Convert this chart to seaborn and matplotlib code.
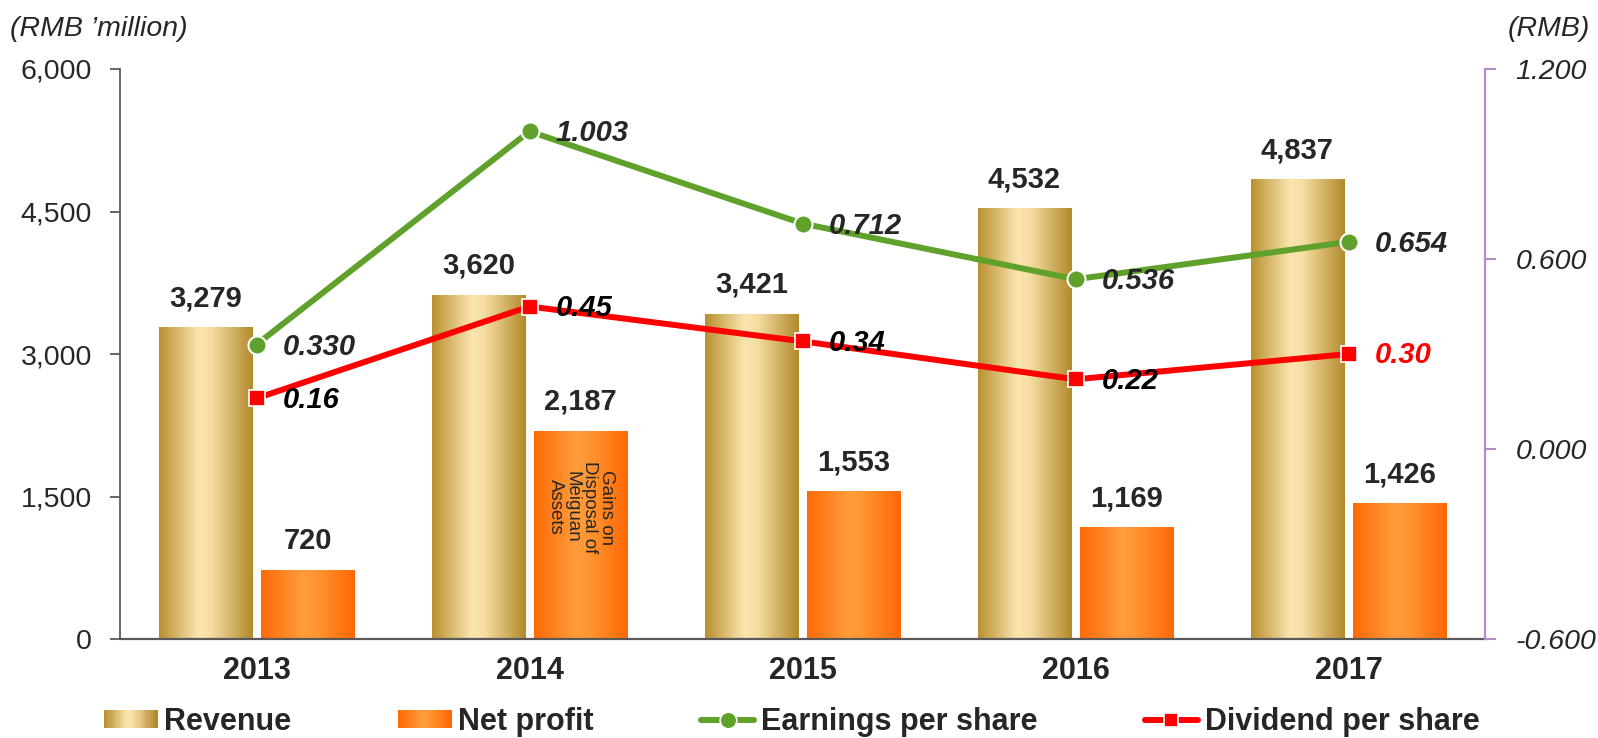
import numpy as np
import pandas as pd
import matplotlib
matplotlib.use("Agg")
import matplotlib.pyplot as plt
import seaborn as sns
from matplotlib.colors import LinearSegmentedColormap
from matplotlib.patches import Patch, Rectangle
from matplotlib.lines import Line2D
from matplotlib.legend_handler import HandlerBase

# Data
years = ["2013", "2014", "2015", "2016", "2017"]
revenue = [3279, 3620, 3421, 4532, 4837]
net_profit = [720, 2187, 1553, 1169, 1426]
eps = [0.330, 1.003, 0.712, 0.536, 0.654]
dps = [0.16, 0.45, 0.34, 0.22, 0.30]
eps_labels = ["0.330", "1.003", "0.712", "0.536", "0.654"]
dps_labels = ["0.16", "0.45", "0.34", "0.22", "0.30"]

sns.set_style("white")
plt.rcParams["font.family"] = ["Liberation Sans", "DejaVu Sans"]

rev_cmap = LinearSegmentedColormap.from_list(
    "rev", [(0, "#b8902f"), (0.42, "#fbe5af"), (0.55, "#f6dea5"), (1, "#b38a2b")])
np_cmap = LinearSegmentedColormap.from_list(
    "np", [(0, "#ff6a05"), (0.45, "#ff9d3c"), (0.6, "#ff9430"), (1, "#ff6805")])

GREEN = "#5fa12b"
RED = "#ff0000"
GREY = "#595959"
PURPLE = "#b48cc6"

df = pd.DataFrame({
    "Year": years * 2,
    "Metric": ["Revenue"] * 5 + ["Net profit"] * 5,
    "Value": revenue + net_profit,
})

fig = plt.figure(figsize=(15.98, 7.38), dpi=100)
ax = fig.add_axes([120 / 1598, 1 - 639 / 738, 1365 / 1598, 570 / 738])

sns.barplot(data=df, x="Year", y="Value", hue="Metric",
            palette=["#e8cc85", "#ff8a25"], width=0.75, gap=0.09,
            ax=ax, legend=False, saturation=1)

# gradient fills over the bars
bars = list(ax.patches)
for i, p in enumerate(bars):
    cmap = rev_cmap if i < len(years) else np_cmap
    x0, w, h = p.get_x(), p.get_width(), p.get_height()
    grad = np.linspace(0, 1, 256)[None, :]
    ax.imshow(grad, extent=[x0, x0 + w, 0, h], aspect="auto", cmap=cmap,
              interpolation="bicubic", zorder=p.get_zorder() + 0.1)
    p.set_facecolor("none")

ax.set_xlim(-0.5, len(years) - 0.5)
ax.set_ylim(0, 6000)
ax.set_yticks([0, 1500, 3000, 4500, 6000])
ax.set_yticklabels(["0", "1,500", "3,000", "4,500", "6,000"])
ax.set_xticks(range(len(years)))
ax.set_xticklabels(years, fontweight="bold", fontsize=22)
ax.set_xticks(np.arange(-0.5, len(years), 1), minor=True)
ax.tick_params(axis="x", which="major", length=0, pad=12)
ax.tick_params(axis="x", which="minor", length=7, width=1.5, color=GREY, direction="out")
ax.tick_params(axis="y", length=7, width=1.3, color=GREY, direction="out",
               labelsize=20.5, pad=13)
ax.set_xlabel("")
ax.set_ylabel("")
for s in ["top", "right"]:
    ax.spines[s].set_visible(False)
ax.spines["left"].set_color(GREY)
ax.spines["left"].set_linewidth(1.3)
ax.spines["bottom"].set_color(GREY)
ax.spines["bottom"].set_linewidth(1.6)

# value labels on bars
for i, p in enumerate(bars):
    val = revenue[i] if i < len(years) else net_profit[i - len(years)]
    ax.annotate(f"{val:,}", (p.get_x() + p.get_width() / 2, p.get_height()),
                xytext=(0, 11), textcoords="offset points", ha="center", va="bottom",
                fontsize=21, fontweight="bold", zorder=6)

np_bar_2014 = bars[len(years) + 1]
ax.text(np_bar_2014.get_x() + np_bar_2014.get_width() / 2, net_profit[1] * 0.635,
        "Gains on\nDisposal of\nMeiguan\nAssets", rotation=-90, ha="center", va="center",
        multialignment="center", fontsize=13.5, zorder=6, linespacing=1.0)

# lines on the right axis
ax2 = ax.twinx()
xpos = np.arange(len(years))
sns.lineplot(x=xpos, y=eps, ax=ax2, color=GREEN, linewidth=4.3, marker="o",
             markersize=13, markeredgecolor="white", markeredgewidth=1.5, sort=False)
sns.lineplot(x=xpos, y=dps, ax=ax2, color=RED, linewidth=4.3, marker="s",
             markersize=11, markeredgecolor="white", markeredgewidth=1.2, sort=False)
ax2.set_ylim(-0.6, 1.2)
ax2.set_yticks([-0.6, 0.0, 0.6, 1.2])
ax2.set_yticklabels(["-0.600", "0.000", "0.600", "1.200"], fontstyle="italic")
ax2.tick_params(axis="y", length=8, width=1.5, color=PURPLE, direction="out",
                labelsize=20.5, pad=14)
ax2.set_xlim(-0.5, len(years) - 0.5)
for s in ["top", "left", "bottom"]:
    ax2.spines[s].set_visible(False)
ax2.spines["right"].set_color(PURPLE)
ax2.spines["right"].set_linewidth(1.6)
ax2.set_ylabel("")

for i in range(len(years)):
    ax2.annotate(eps_labels[i], (xpos[i], eps[i]), xytext=(19, -1.5),
                 textcoords="offset points", ha="left", va="center",
                 fontsize=21, fontweight="bold", fontstyle="italic")
    ax2.annotate(dps_labels[i], (xpos[i], dps[i]), xytext=(19, -1),
                 textcoords="offset points", ha="left", va="center",
                 fontsize=21, fontweight="bold", fontstyle="italic",
                 color=RED if i == len(years) - 1 else "black")

# axis unit titles
fig.text(10 / 1598, 1 - 29 / 738, "(RMB \u2019million)", fontsize=20.5,
         fontstyle="italic", va="center", ha="left")
fig.text(1590 / 1598, 1 - 29 / 738, "(RMB)", fontsize=20.5,
         fontstyle="italic", va="center", ha="right")


class GradientHandler(HandlerBase):
    def __init__(self, cmap):
        super().__init__()
        self.cmap = cmap

    def create_artists(self, legend, orig_handle, xdescent, ydescent,
                       width, height, fontsize, trans):
        n = 24
        arts = []
        for k in range(n):
            arts.append(Rectangle((-xdescent + k * width / n, -ydescent),
                                  width / n * 1.05, height,
                                  facecolor=self.cmap(k / (n - 1)),
                                  edgecolor="none", transform=trans))
        return arts


h_rev = Patch(label="Revenue")
h_np = Patch(label="Net profit")
h_eps = Line2D([], [], color=GREEN, lw=4.3, marker="o", markersize=12,
               markeredgecolor="white", markeredgewidth=1.2, label="Earnings per share")
h_dps = Line2D([], [], color=RED, lw=4.3, marker="s", markersize=10,
               markeredgecolor="white", markeredgewidth=1.2, label="Dividend per share")

leg = fig.legend(handles=[h_rev, h_np, h_eps, h_dps],
                 handler_map={h_rev: GradientHandler(rev_cmap), h_np: GradientHandler(np_cmap)},
                 loc="center left", bbox_to_anchor=(104 / 1598, 1 - 722 / 738),
                 ncol=4, frameon=False, borderpad=0, borderaxespad=0,
                 handlelength=1.75, handleheight=0.55, handletextpad=0.22,
                 columnspacing=3.5,
                 prop={"weight": "bold", "size": 22})

fig.savefig("out.png", dpi=100)
